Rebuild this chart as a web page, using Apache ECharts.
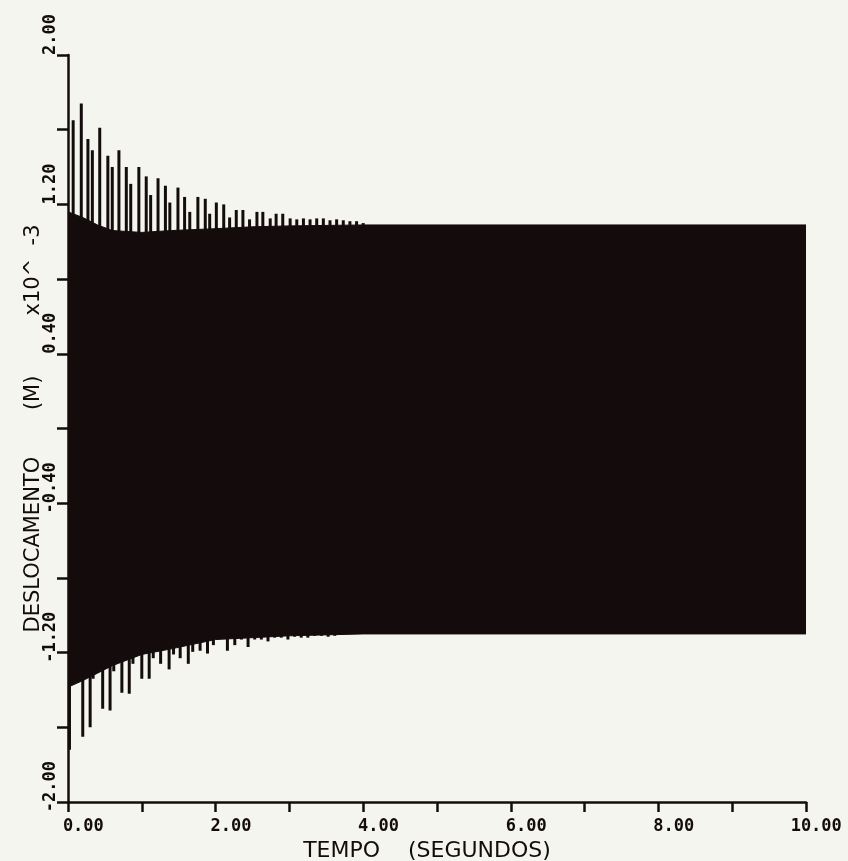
<!DOCTYPE html>
<html>
<head>
<meta charset="utf-8">
<script src="https://cdn.jsdelivr.net/npm/echarts@6/dist/echarts.min.js"></script>
<style>
  html, body { margin: 0; padding: 0; background: #f5f5ef; }
  #chart { width: 848px; height: 861px; }
</style>
</head>
<body>
<div id="chart"></div>
<script>
// forced response envelope (steady oscillation fills the band)
const bandTimes = [0, 0.2, 0.4, 0.6, 1.0, 1.4, 2.0, 2.5, 3.0, 4.0, 10.0];
const bandTop = [1.16, 1.13, 1.09, 1.06, 1.05, 1.06, 1.07, 1.08, 1.085, 1.09, 1.09];
const bandBottom = [-1.385, -1.35, -1.31, -1.27, -1.21, -1.18, -1.13, -1.12, -1.11, -1.10, -1.10];

// transient spikes above the band
const upperTimes = [0.07, 0.18, 0.27, 0.33, 0.43, 0.54, 0.60, 0.69, 0.79, 0.85, 0.96, 1.06, 1.12, 1.22, 1.32,
  1.38, 1.49, 1.58, 1.65, 1.76, 1.86, 1.92, 2.01, 2.11, 2.19, 2.28, 2.37, 2.46, 2.56, 2.64,
  2.74, 2.82, 2.91, 3.01, 3.10, 3.19, 3.28, 3.37, 3.46, 3.55, 3.64, 3.73, 3.82, 3.91, 4.00];
const upperPeaks = [1.65, 1.74, 1.55, 1.49, 1.61, 1.46, 1.40, 1.49, 1.40, 1.31, 1.40, 1.35, 1.25, 1.34, 1.30,
  1.21, 1.29, 1.24, 1.16, 1.24, 1.23, 1.15, 1.21, 1.20, 1.13, 1.17, 1.17, 1.12, 1.16, 1.16,
  1.125, 1.15, 1.15, 1.125, 1.12, 1.125, 1.12, 1.125, 1.125, 1.115, 1.12, 1.115, 1.11, 1.11, 1.10];

// transient spikes below the band
const lowerTimes = [0.02, 0.20, 0.30, 0.34, 0.47, 0.57, 0.62, 0.73, 0.83, 0.88, 1.00, 1.10, 1.155, 1.255, 1.37,
  1.43, 1.52, 1.63, 1.69, 1.79, 1.89, 1.97, 2.16, 2.26, 2.35, 2.44, 2.53, 2.62, 2.71, 2.80,
  2.89, 2.98, 3.07, 3.16, 3.25, 3.34, 3.435, 3.525, 3.615, 3.71];
const lowerPeaks = [-1.72, -1.65, -1.60, -1.34, -1.50, -1.51, -1.30, -1.415, -1.42, -1.26, -1.34, -1.34, -1.23, -1.26, -1.29,
  -1.21, -1.23, -1.26, -1.196, -1.19, -1.205, -1.16, -1.19, -1.16, -1.13, -1.17, -1.13, -1.13, -1.14, -1.12,
  -1.12, -1.13, -1.115, -1.12, -1.12, -1.11, -1.11, -1.115, -1.11, -1.105];

const ink = '#140c0c';
const pairs = (xs, ys) => xs.map((x, i) => [x, ys[i]]);

const chart = echarts.init(document.getElementById('chart'));
chart.setOption({
  animation: false,
  backgroundColor: '#f5f5ef',
  grid: { left: 68, right: 42, top: 55, bottom: 59, outerBoundsMode: 'none' },
  xAxis: {
    type: 'value',
    min: 0,
    max: 10,
    interval: 1,
    name: 'TEMPO    (SEGUNDOS)',
    nameLocation: 'middle',
    nameGap: 37,
    nameTextStyle: { color: ink, fontFamily: 'DejaVu Sans', fontSize: 22, padding: [0, 20, 0, 0] },
    splitLine: { show: false },
    axisLine: { onZero: false, lineStyle: { color: ink, width: 2.5 } },
    axisTick: { inside: false, length: 10, lineStyle: { color: ink, width: 2.5 } },
    axisLabel: {
      margin: 16,
      color: ink,
      fontFamily: 'DejaVu Sans Mono',
      fontWeight: 'bold',
      fontSize: 17,
      formatter: (v) => {
        if (Math.round(v) % 2 !== 0) return '';
        const s = v.toFixed(2);
        return ' '.repeat(4 - s.indexOf('.')) + s;
      }
    }
  },
  yAxis: {
    type: 'value',
    min: -2,
    max: 2,
    interval: 0.4,
    name: 'DESLOCAMENTO       (M)         x10^  -3',
    nameLocation: 'middle',
    nameGap: 24,
    nameMoveOverlap: false,
    nameTextStyle: { color: ink, fontFamily: 'DejaVu Sans', fontSize: 21 },
    splitLine: { show: false },
    axisLine: { onZero: false, lineStyle: { color: ink, width: 2.5 } },
    axisTick: { inside: false, length: 11, lineStyle: { color: ink, width: 2.5 } },
    axisLabel: {
      rotate: 90,
      align: 'center',
      margin: 9,
      color: ink,
      fontFamily: 'DejaVu Sans Mono',
      fontWeight: 'bold',
      fontSize: 17,
      formatter: (v) => {
        if (Math.round((v + 2) / 0.4) % 2 !== 0) return '';
        const s = v.toFixed(2);
        return ' '.repeat(5 - s.indexOf('.')) + s;
      }
    }
  },
  series: [
    {
      type: 'line',
      data: pairs(bandTimes, bandTop),
      showSymbol: false,
      lineStyle: { color: ink, width: 1 },
      areaStyle: { color: ink, opacity: 1, origin: -0.5 }
    },
    {
      type: 'line',
      data: pairs(bandTimes, bandBottom),
      showSymbol: false,
      lineStyle: { color: ink, width: 1 },
      areaStyle: { color: ink, opacity: 1, origin: 0.5 }
    },
    {
      type: 'bar',
      data: pairs(upperTimes, upperPeaks),
      barWidth: 3,
      barGap: '-100%',
      itemStyle: { color: ink }
    },
    {
      type: 'bar',
      data: pairs(lowerTimes, lowerPeaks),
      barWidth: 3,
      barGap: '-100%',
      itemStyle: { color: ink }
    }
  ]
});
</script>
</body>
</html>
